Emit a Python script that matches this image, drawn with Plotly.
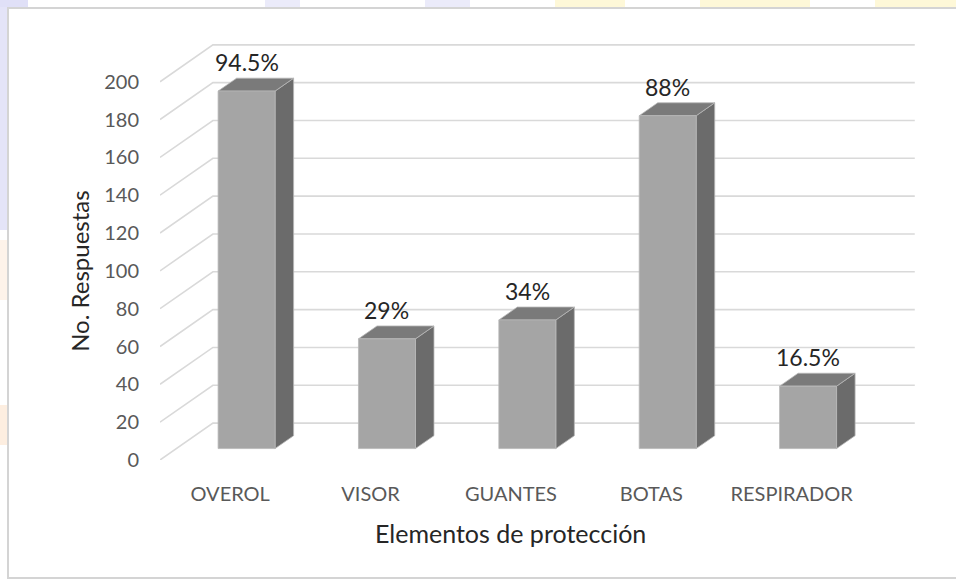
import plotly.graph_objects as go

# --- data -------------------------------------------------------------
categories = ["OVEROL", "VISOR", "GUANTES", "BOTAS", "RESPIRADOR"]
responses = [189, 58, 68, 176, 33]          # number of answers (out of 200)
pct_labels = ["94.5%", "29%", "34%", "88%", "16.5%"]
y_ticks = [0, 20, 40, 60, 80, 100, 120, 140, 160, 180, 200]

# --- pseudo-3D geometry (in axis units) ---------------------------------
W, H = 956, 580
ML, MR, MT, MB = 160, 38, 42, 120
X_RANGE = [-0.5, 4.9]
Y_RANGE = [0, 221]
DX, DY = 0.377, 19.5        # full depth of the floor / side wall
F0, F1 = 0.31, 0.66         # front and back of the bars inside the depth
HALF = 0.203                # half width of a bar

FRONT = "#a5a5a5"
SIDE = "#6b6b6b"
TOP = "#7a7a7a"
GRID = "#d9d9d9"

pw, ph = W - ML - MR, H - MT - MB


def px_x(p):
    return (p - ML) / pw


def px_y(p):
    return (H - MB - p) / ph


fig = go.Figure()

# back wall gridlines and the diagonal lines along the left wall
gx, gy = [], []
x0 = X_RANGE[0]
for v in y_ticks:
    gx += [x0, x0 + DX, 4.5 + DX, None]
    gy += [v, v + DY, v + DY, None]
fig.add_trace(go.Scatter(x=gx, y=gy, mode="lines",
                         line=dict(color=GRID, width=1.6),
                         hoverinfo="skip", showlegend=False))

# bars: front, side and top faces
fx, fy, sx, sy, tx, ty = [], [], [], [], [], []
for i, v in enumerate(responses):
    xl = i - HALF + F0 * DX
    xr = i + HALF + F0 * DX
    yb = F0 * DY
    yt = v + F0 * DY
    ddx = (F1 - F0) * DX
    ddy = (F1 - F0) * DY
    fx += [xl, xr, xr, xl, xl, None]
    fy += [yb, yb, yt, yt, yb, None]
    sx += [xr, xr + ddx, xr + ddx, xr, xr, None]
    sy += [yb, yb + ddy, yt + ddy, yt, yb, None]
    tx += [xl, xr, xr + ddx, xl + ddx, xl, None]
    ty += [yt, yt, yt + ddy, yt + ddy, yt, None]

for xs, ys, col in [(sx, sy, SIDE), (tx, ty, TOP), (fx, fy, FRONT)]:
    fig.add_trace(go.Scatter(x=xs, y=ys, mode="lines", fill="toself",
                             fillcolor=col, line=dict(width=0.8, color="#b8b8b8"),
                             hoverinfo="skip", showlegend=False))

# value labels above the bars
for i, (v, lab) in enumerate(zip(responses, pct_labels)):
    fig.add_annotation(x=i + F0 * DX, y=v + F1 * DY, text=lab,
                       showarrow=False, yanchor="bottom", xanchor="center",
                       font=dict(family="Lato", size=23, color="#262626"))

# axis titles
fig.add_annotation(x=2, xref="x", y=px_y(533), yref="paper",
                   text="Elementos de protección", showarrow=False,
                   xanchor="center", yanchor="middle",
                   font=dict(family="Lato", size=25, color="#262626"))
fig.add_annotation(x=px_x(80), xref="paper", y=100, yref="y",
                   text="No. Respuestas", showarrow=False, textangle=-90,
                   xanchor="center", yanchor="middle",
                   font=dict(family="Lato", size=24, color="#262626"))

# frame and faint background colours around the chart
shapes = [
    dict(type="rect", xref="paper", yref="paper",
         x0=px_x(0), x1=px_x(8), y0=px_y(0), y1=px_y(230),
         fillcolor="#e4e4f8", line=dict(width=0), layer="below"),
    dict(type="rect", xref="paper", yref="paper",
         x0=px_x(0), x1=px_x(8), y0=px_y(240), y1=px_y(300),
         fillcolor="#fef3ea", line=dict(width=0), layer="below"),
    dict(type="rect", xref="paper", yref="paper",
         x0=px_x(0), x1=px_x(8), y0=px_y(405), y1=px_y(445),
         fillcolor="#fdeee0", line=dict(width=0), layer="below"),
]
for a, b, c in [(0, 28, "#e0e0f7"), (265, 300, "#ebebfa"), (425, 470, "#ebebfa"),
                (555, 625, "#fef8d8"), (700, 810, "#fef8d8"), (875, 956, "#fef8d8")]:
    shapes.append(dict(type="rect", xref="paper", yref="paper",
                       x0=px_x(a), x1=px_x(b), y0=px_y(0), y1=px_y(7),
                       fillcolor=c, line=dict(width=0), layer="below"))
shapes.append(dict(type="path", xref="paper", yref="paper",
                   path=f"M {px_x(962)},{px_y(8)} L {px_x(8)},{px_y(8)} "
                        f"L {px_x(8)},{px_y(578)} L {px_x(962)},{px_y(578)}",
                   line=dict(color="#d4d4d4", width=2), layer="below"))

fig.update_layout(
    width=W, height=H, autosize=False,
    margin=dict(l=ML, r=MR, t=MT, b=MB, pad=0),
    paper_bgcolor="white", plot_bgcolor="white",
    shapes=shapes,
    xaxis=dict(range=X_RANGE, tickvals=list(range(len(categories))),
               ticktext=categories, showgrid=False, zeroline=False,
               showline=False, ticks="", ticklabelstandoff=20,
               tickfont=dict(family="Lato", size=20, color="#595959"),
               fixedrange=True),
    yaxis=dict(range=Y_RANGE, tickvals=y_ticks, showgrid=False,
               zeroline=False, showline=False, ticks="",
               ticklabelstandoff=20,
               tickfont=dict(family="Lato", size=20, color="#595959"),
               fixedrange=True),
    showlegend=False,
)

fig.write_html("out.html")
